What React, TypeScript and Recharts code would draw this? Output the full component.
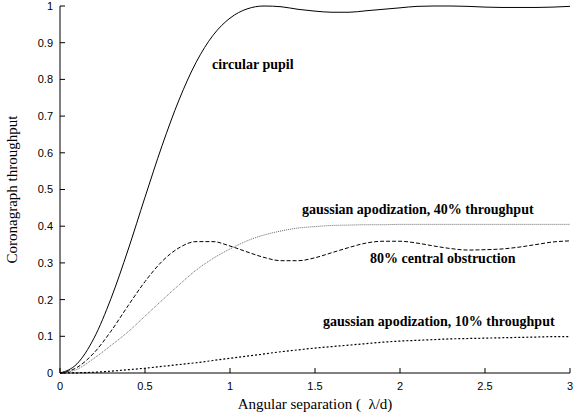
import { LineChart, Line, XAxis, YAxis } from 'recharts';

// angular separation, lambda/d
const separation = [
  0, 0.1, 0.2, 0.3, 0.4, 0.5, 0.6, 0.7, 0.8, 0.9, 1.0, 1.1, 1.2, 1.3, 1.4, 1.5,
  1.6, 1.7, 1.8, 1.9, 2.0, 2.1, 2.2, 2.3, 2.4, 2.5, 2.6, 2.7, 2.8, 2.9, 3.0,
];

const circularPupil = [
  0, 0.025, 0.095, 0.203, 0.335, 0.479, 0.619, 0.744, 0.846, 0.92, 0.967, 0.992, 1.0, 0.998, 0.991, 0.986,
  0.983, 0.983, 0.987, 0.991, 0.995, 0.999, 1.0, 1.0, 0.999, 0.997, 0.996, 0.996, 0.996, 0.997, 0.999,
];

const centralObstruction = [
  0, 0.015, 0.055, 0.114, 0.183, 0.249, 0.304, 0.341, 0.358, 0.358, 0.346, 0.33, 0.315, 0.306, 0.306, 0.314,
  0.328, 0.342, 0.354, 0.359, 0.359, 0.354, 0.346, 0.339, 0.335, 0.336, 0.338, 0.343, 0.35, 0.357, 0.36,
];

const gauss40 = [
  0, 0.01, 0.04, 0.075, 0.112, 0.155, 0.198, 0.24, 0.28, 0.312, 0.338, 0.36, 0.376, 0.387, 0.395, 0.399,
  0.402, 0.403, 0.404, 0.404, 0.405, 0.405, 0.405, 0.405, 0.405, 0.405, 0.405, 0.405, 0.405, 0.405, 0.405,
];

const gauss10 = [
  0, 0.0005, 0.002, 0.005, 0.009, 0.013, 0.018, 0.023, 0.028, 0.034, 0.04, 0.046, 0.052, 0.058, 0.063, 0.068,
  0.072, 0.076, 0.08, 0.084, 0.087, 0.089, 0.091, 0.093, 0.094, 0.095, 0.096, 0.097, 0.098, 0.099, 0.099,
];

const xTicks = [0, 0.5, 1, 1.5, 2, 2.5, 3];
const yTicks = [0, 0.1, 0.2, 0.3, 0.4, 0.5, 0.6, 0.7, 0.8, 0.9, 1];

const data = separation.map((x, i) => ({
  x,
  circular: circularPupil[i],
  obstruction: centralObstruction[i],
  g40: gauss40[i],
  g10: gauss10[i],
}));

const serif = '"Liberation Serif", "Times New Roman", serif';
const tickFont = { fontSize: 11, fill: '#000', fontFamily: '"Liberation Sans", Arial, sans-serif' };
const noteStyle = {
  fontSize: 14,
  fontWeight: 'bold' as const,
  fontFamily: serif,
  fill: '#000',
};

export default function App() {
  return (
    <div style={{ position: 'absolute', left: 0, top: 0, width: 574, height: 415, background: '#fff' }}>
      <LineChart width={574} height={415} data={data} margin={{ top: 6, right: 4, bottom: 0, left: 0 }}>
        <XAxis
          dataKey="x"
          type="number"
          domain={[0, 3]}
          ticks={xTicks}
          height={42}
          tick={tickFont}
          tickSize={-5}
          tickMargin={14}
          axisLine={{ stroke: '#000' }}
          tickLine={{ stroke: '#000' }}
          label={{
            value: 'Angular separation (\u00a0 λ/d)',
            position: 'insideBottom',
            offset: 6,
            style: { fontSize: 15, fill: '#000', fontFamily: serif },
          }}
        />
        <XAxis
          xAxisId="top"
          orientation="top"
          type="number"
          domain={[0, 3]}
          ticks={xTicks}
          height={0}
          tick={false}
          tickSize={-5}
          axisLine={{ stroke: '#000' }}
          tickLine={{ stroke: '#000' }}
        />
        <YAxis
          type="number"
          domain={[0, 1]}
          ticks={yTicks}
          width={60}
          tick={tickFont}
          tickSize={-5}
          tickMargin={12}
          axisLine={{ stroke: '#000' }}
          tickLine={{ stroke: '#000' }}
          label={{
            value: 'Coronagraph throughput',
            angle: -90,
            position: 'insideLeft',
            offset: 12,
            style: { fontSize: 15, fill: '#000', textAnchor: 'middle', fontFamily: serif },
          }}
        />
        <YAxis
          yAxisId="right"
          orientation="right"
          type="number"
          domain={[0, 1]}
          ticks={yTicks}
          width={0}
          tick={false}
          tickSize={-5}
          axisLine={{ stroke: '#000' }}
          tickLine={{ stroke: '#000' }}
        />
        <Line type="monotone" dataKey="circular" stroke="#000" strokeWidth={1} dot={false} isAnimationActive={false} />
        <Line
          type="monotone"
          dataKey="obstruction"
          stroke="#000"
          strokeWidth={1}
          strokeDasharray="4 2"
          dot={false}
          isAnimationActive={false}
        />
        <Line
          type="monotone"
          dataKey="g40"
          stroke="#666"
          strokeWidth={1}
          strokeDasharray="1 1"
          dot={false}
          isAnimationActive={false}
        />
        <Line
          type="monotone"
          dataKey="g10"
          stroke="#000"
          strokeWidth={1.2}
          strokeDasharray="2 2"
          dot={false}
          isAnimationActive={false}
        />
        <text x={212} y={69} style={noteStyle}>circular pupil</text>
        <text x={302} y={214} style={noteStyle}>gaussian apodization, 40% throughput</text>
        <text x={370} y={263} style={noteStyle}>80% central obstruction</text>
        <text x={323} y={326} style={noteStyle}>gaussian apodization, 10% throughput</text>
      </LineChart>
    </div>
  );
}
